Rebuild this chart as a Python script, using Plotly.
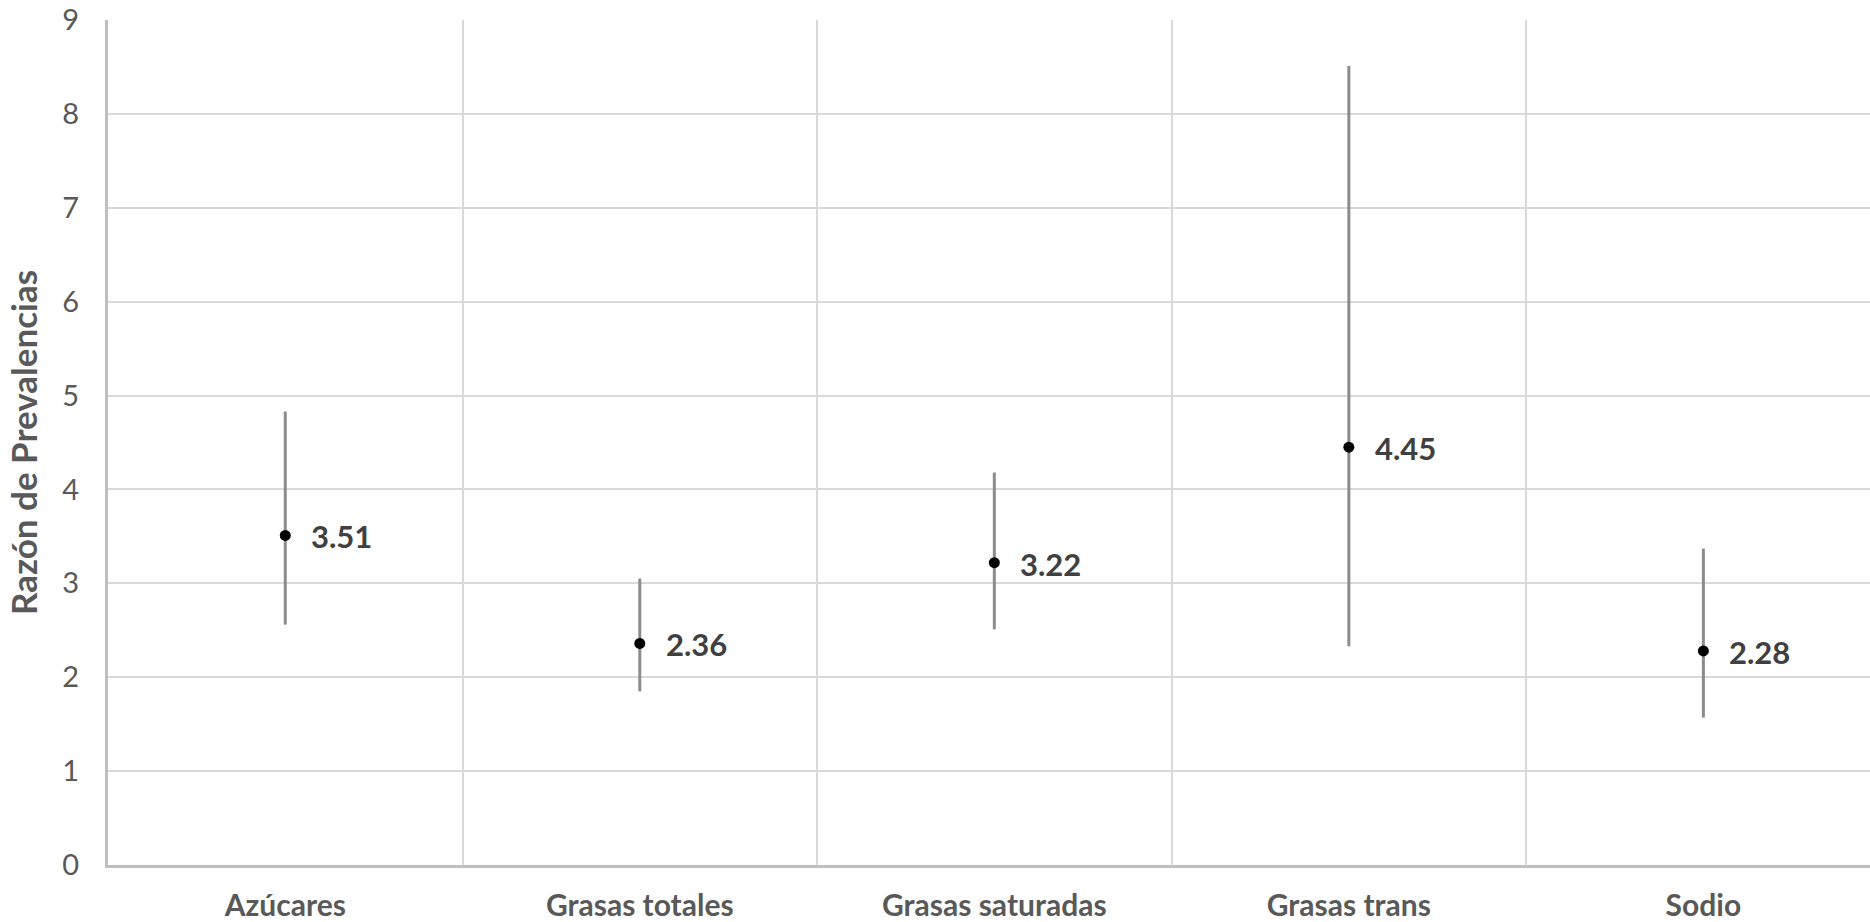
import plotly.graph_objects as go

categories = ["Azúcares", "Grasas totales", "Grasas saturadas", "Grasas trans", "Sodio"]
rp = [3.51, 2.36, 3.22, 4.45, 2.28]
ci_low = [2.56, 1.85, 2.51, 2.33, 1.57]
ci_high = [4.83, 3.05, 4.18, 8.51, 3.37]
y_ticks = [0, 1, 2, 3, 4, 5, 6, 7, 8, 9]

xpos = list(range(len(categories)))
err_plus = [h - v for h, v in zip(ci_high, rp)]
err_minus = [v - l for v, l in zip(rp, ci_low)]

FONT = "Lato"
GRAY = "#595959"

fig = go.Figure()
fig.add_trace(go.Scatter(
    x=xpos, y=rp, mode="markers",
    marker=dict(color="black", size=11, symbol="circle"),
    error_y=dict(type="data", symmetric=False, array=err_plus, arrayminus=err_minus,
                 color="#8c8c8c", thickness=3, width=0),
    showlegend=False, hoverinfo="skip",
))

for x, v in zip(xpos, rp):
    fig.add_annotation(x=x, y=v, text=f"<b>{v:.2f}</b>", showarrow=False,
                       xanchor="left", yanchor="middle", xshift=24, yshift=-1,
                       font=dict(family=FONT, size=31, color="#404040"))

fig.update_layout(
    width=1870, height=922,
    margin=dict(l=108, r=0, t=20, b=57, autoexpand=False),
    paper_bgcolor="white", plot_bgcolor="white",
    font=dict(family=FONT, color=GRAY),
)

fig.update_xaxes(
    range=[-0.5, 4.47], tickmode="array", tickvals=xpos,
    ticktext=[f"<b>{c}</b>" for c in categories],
    tickfont=dict(family=FONT, size=30, color=GRAY),
    ticks="outside", ticklen=12, tickcolor="rgba(0,0,0,0)",
    showgrid=False, zeroline=False,
    showline=True, linecolor="#bfbfbf", linewidth=3,
    minor=dict(tickvals=[0.5, 1.5, 2.5, 3.5], showgrid=True, gridcolor="#d9d9d9", gridwidth=2, ticks=""),
    automargin=False,
)
fig.update_yaxes(
    range=[0, 9], tickmode="array", tickvals=y_ticks,
    tickfont=dict(family=FONT, size=29, color=GRAY),
    ticks="outside", ticklen=20, tickcolor="rgba(0,0,0,0)",
    showgrid=True, gridcolor="#d9d9d9", gridwidth=2, zeroline=False,
    showline=True, linecolor="#bfbfbf", linewidth=3,
    title=dict(text="<b>Razón de Prevalencias</b>", font=dict(family=FONT, size=35, color=GRAY), standoff=15),
    automargin=False,
)

fig.write_html("out.html", config={"displayModeBar": False},
               post_script="document.body.style.margin='0';document.body.style.overflow='hidden';")
